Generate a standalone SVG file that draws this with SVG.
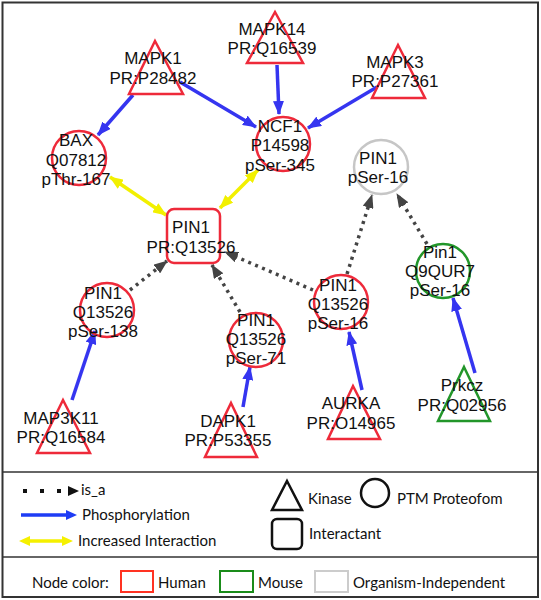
<svg xmlns="http://www.w3.org/2000/svg" width="541" height="600" viewBox="0 0 541 600">
<style>
.lbl{font-family:"Liberation Sans",Arial,sans-serif;font-size:17px;fill:#111;text-anchor:middle}
.leg{font-family:Lato,"Open Sans",sans-serif;font-size:15px;fill:#111}
.hu{fill:none;stroke:#ee2a3a;stroke-width:2.5}
.mo{fill:none;stroke:#22962a;stroke-width:2.5}
.oi{fill:none;stroke:#c6c6c6;stroke-width:2.5}
.ph{stroke:#3535f0;stroke-width:3.5;fill:none;marker-end:url(#mb)}
.ii{stroke:#f2f000;stroke-width:3.5;fill:none;marker-start:url(#my);marker-end:url(#my)}
.isa{stroke:#444;stroke-width:3.5;stroke-dasharray:3 4.5;fill:none;marker-end:url(#md)}
</style>
<defs>
<marker id="mb" markerUnits="userSpaceOnUse" markerWidth="14" markerHeight="11" refX="13" refY="5.5" orient="auto" viewBox="0 0 14 11"><path d="M0,0 L14,5.5 L0,11 z" fill="#3535f0"/></marker>
<marker id="my" markerUnits="userSpaceOnUse" markerWidth="14" markerHeight="11" refX="13" refY="5.5" orient="auto-start-reverse" viewBox="0 0 14 11"><path d="M0,0 L14,5.5 L0,11 z" fill="#f2f000"/></marker>
<marker id="md" markerUnits="userSpaceOnUse" markerWidth="14" markerHeight="11" refX="13" refY="5.5" orient="auto" viewBox="0 0 14 11"><path d="M0,0 L14,5.5 L0,11 z" fill="#444"/></marker>
</defs>
<rect x="0" y="0" width="541" height="600" fill="#fff"/>
<rect x="2.5" y="2.5" width="535.5" height="594.5" fill="none" stroke="#333" stroke-width="2"/>
<line x1="2.5" y1="472" x2="538" y2="472" stroke="#333" stroke-width="1.5"/>
<line x1="2.5" y1="557" x2="538" y2="557" stroke="#333" stroke-width="1.5"/>

<g id="edges">
<line class="ph" x1="133" y1="95" x2="98" y2="135"/>
<line class="ph" x1="180" y1="82" x2="256" y2="127"/>
<line class="ph" x1="277" y1="65" x2="279" y2="114"/>
<line class="ph" x1="377" y1="87" x2="308" y2="128"/>
<line class="ph" x1="72" y1="400" x2="95" y2="331"/>
<line class="ph" x1="243" y1="407" x2="250" y2="367"/>
<line class="ph" x1="362" y1="390" x2="349" y2="332"/>
<line class="ph" x1="475" y1="373" x2="453" y2="298"/>
<line class="ii" x1="110" y1="177" x2="166" y2="215"/>
<line class="ii" x1="258" y1="170" x2="220" y2="208"/>
<line class="isa" x1="130" y1="290" x2="167" y2="261"/>
<line class="isa" x1="240" y1="312" x2="212" y2="265"/>
<line class="isa" x1="313" y1="290" x2="225" y2="252"/>
<line class="isa" x1="347" y1="274" x2="372" y2="195"/>
<line class="isa" x1="427" y1="244" x2="397" y2="194"/>
</g>

<g id="MAPK1"><polygon class="hu" points="155,41 183,94 129,94"/><text class="lbl" x="153" y="64">MAPK1</text><text class="lbl" x="153" y="84">PR:P28482</text></g>
<g id="MAPK14"><polygon class="hu" points="275,12 303,63 247,63"/><text class="lbl" x="272" y="35">MAPK14</text><text class="lbl" x="272" y="54">PR:Q16539</text></g>
<g id="MAPK3"><polygon class="hu" points="398,45 425,98 372,98"/><text class="lbl" x="395" y="68">MAPK3</text><text class="lbl" x="395" y="87">PR:P27361</text></g>
<g id="BAX"><circle class="hu" cx="79" cy="158" r="27"/><text class="lbl" x="76" y="146">BAX</text><text class="lbl" x="76" y="166">Q07812</text><text class="lbl" x="76" y="185">pThr-167</text></g>
<g id="NCF1"><circle class="hu" cx="283" cy="144" r="27"/><text class="lbl" x="280" y="132">NCF1</text><text class="lbl" x="280" y="151">P14598</text><text class="lbl" x="280" y="171">pSer-345</text></g>
<g id="PIN1_pSer16"><circle class="oi" cx="381" cy="167" r="27"/><text class="lbl" x="378" y="164">PIN1</text><text class="lbl" x="378" y="183">pSer-16</text></g>
<g id="PIN1"><rect class="hu" x="167" y="209" width="53" height="54" rx="7"/><text class="lbl" x="191" y="233">PIN1</text><text class="lbl" x="191" y="253">PR:Q13526</text></g>
<g id="PIN1_pSer138"><circle class="hu" cx="107" cy="310" r="27"/><text class="lbl" x="103" y="299">PIN1</text><text class="lbl" x="103" y="318">Q13526</text><text class="lbl" x="103" y="337">pSer-138</text></g>
<g id="PIN1_pSer71"><circle class="hu" cx="256" cy="340" r="27"/><text class="lbl" x="256" y="326">PIN1</text><text class="lbl" x="256" y="345">Q13526</text><text class="lbl" x="256" y="364">pSer-71</text></g>
<g id="PIN1_h_pSer16"><circle class="hu" cx="341" cy="302" r="27"/><text class="lbl" x="338" y="291">PIN1</text><text class="lbl" x="338" y="310">Q13526</text><text class="lbl" x="338" y="329">pSer-16</text></g>
<g id="Pin1_m_pSer16"><circle class="mo" cx="443" cy="271" r="27"/><text class="lbl" x="440" y="258">Pin1</text><text class="lbl" x="440" y="277">Q9QUR7</text><text class="lbl" x="440" y="296">pSer-16</text></g>
<g id="MAP3K11"><polygon class="hu" points="63,400 90,453 37,453"/><text class="lbl" x="61" y="424">MAP3K11</text><text class="lbl" x="61" y="443">PR:Q16584</text></g>
<g id="DAPK1"><polygon class="hu" points="231,403 257,457 205,457"/><text class="lbl" x="228" y="427">DAPK1</text><text class="lbl" x="228" y="446">PR:P53355</text></g>
<g id="AURKA"><polygon class="hu" points="353,386 380,439 328,439"/><text class="lbl" x="351" y="409">AURKA</text><text class="lbl" x="351" y="429">PR:O14965</text></g>
<g id="Prkcz"><polygon class="mo" points="464,367 490,421 438,421"/><text class="lbl" x="462" y="391">Prkcz</text><text class="lbl" x="462" y="411">PR:Q02956</text></g>

<g id="legend">
<g fill="#111"><rect x="23" y="489" width="4" height="4"/><rect x="40" y="489" width="4" height="4"/><rect x="57" y="489" width="4" height="4"/><path d="M68,486 L79,491 L68,496 z"/></g>
<text class="leg" x="81" y="495">is_a</text>
<line x1="21" y1="515" x2="68" y2="515" stroke="#1e3cf5" stroke-width="3.5"/>
<path d="M66,510 L77,515 L66,520 z" fill="#1e3cf5"/>
<text class="leg" x="82" y="520">Phosphorylation</text>
<line x1="28" y1="541" x2="64" y2="541" stroke="#f5f000" stroke-width="3.5"/>
<path d="M30,536 L19,541 L30,546 z M62,536 L73,541 L62,546 z" fill="#f5f000"/>
<text class="leg" x="78" y="546">Increased Interaction</text>
<polygon points="287,481 302,510 272,510" fill="none" stroke="#111" stroke-width="2.5"/>
<text class="leg" x="308" y="504">Kinase</text>
<circle cx="375" cy="493" r="14" fill="none" stroke="#111" stroke-width="2.5"/>
<text class="leg" x="397" y="504">PTM Proteofom</text>
<rect x="272" y="519" width="30" height="30" rx="5" fill="none" stroke="#111" stroke-width="2.5"/>
<text class="leg" x="309" y="539">Interactant</text>
<text class="leg" x="32" y="588">Node color:</text>
<rect x="121" y="571" width="32" height="21" fill="none" stroke="#ff3322" stroke-width="2"/>
<text class="leg" x="158" y="588">Human</text>
<rect x="220" y="571" width="33" height="21" fill="none" stroke="#1a8c1a" stroke-width="2"/>
<text class="leg" x="258" y="588">Mouse</text>
<rect x="315" y="571" width="33" height="21" fill="none" stroke="#cccccc" stroke-width="2"/>
<text class="leg" x="353" y="588">Organism-Independent</text>
</g>
</svg>
